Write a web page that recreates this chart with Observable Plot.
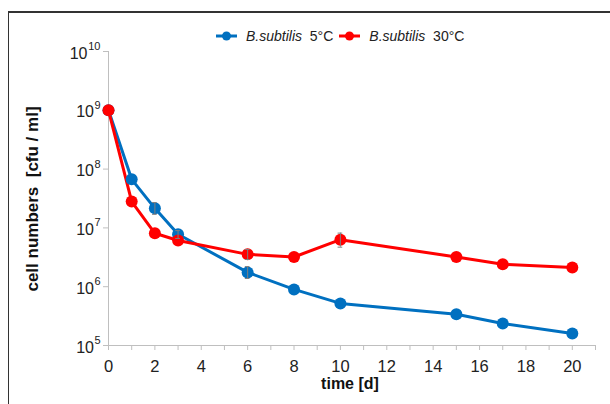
<!DOCTYPE html>
<html>
<head>
<meta charset="utf-8">
<script src="https://cdn.jsdelivr.net/npm/d3@7"></script>
<script src="https://cdn.jsdelivr.net/npm/@observablehq/plot@0.6"></script>
<style>
  html, body { margin: 0; padding: 0; background: #fff; }
  #wrap { position: relative; width: 610px; height: 404px; overflow: hidden; font-family: "Liberation Sans", Arial, sans-serif; }
  #frame { position: absolute; left: 8px; top: 11px; right: -5px; bottom: -5px; border-left: 1.5px solid #333; border-top: 2px solid #333; pointer-events: none; }
  #legend { position: absolute; top: 28px; left: 216px; font-size: 14px; color: #222; display: flex; align-items: center; white-space: pre; }
  #legend .item { display: flex; align-items: center; margin-right: 6px; }
  #legend svg { margin-right: 9px; }
  .ytitle { position: absolute; left: 33px; top: 199px; transform: translate(-50%, -50%) rotate(-90deg); font-weight: bold; font-size: 17px; color: #111; white-space: pre; }
  .xtitle { position: absolute; left: 350px; top: 384px; transform: translate(-50%, -50%); font-weight: bold; font-size: 16px; color: #111; white-space: pre; }
  #chart { position: absolute; left: 0; top: 0; }
</style>
</head>
<body>
<div id="wrap">
  <div id="chart"></div>
  <div id="frame"></div>
  <div id="legend"></div>
  <div class="ytitle">cell numbers  [cfu / ml]</div>
  <div class="xtitle">time [d]</div>
</div>
<script>
// ---- data ----
const days = [0, 1, 2, 3, 6, 8, 10, 15, 17, 20];
const cold5 = [1e9, 6.7e7, 2.15e7, 7.8e6, 1.75e6, 9.0e5, 5.2e5, 3.4e5, 2.37e5, 1.6e5];
const warm30 = [1e9, 2.8e7, 8.1e6, 6.1e6, 3.55e6, 3.2e6, 6.3e6, 3.2e6, 2.4e6, 2.13e6];
const seriesNames = ["B.subtilis 5°C", "B.subtilis 30°C"];
const seriesColors = ["#0070C0", "#FF0000"];

const errDays = [2, 3, 6, 6, 10];
const errSeries = ["B.subtilis 5°C", "B.subtilis 5°C", "B.subtilis 5°C", "B.subtilis 30°C", "B.subtilis 30°C"];
const errLow = [1.7e7, 6.6e6, 1.38e6, 2.9e6, 4.7e6];
const errHigh = [2.7e7, 9.0e6, 2.2e6, 4.3e6, 8.15e6];
const capHalfWidth = 0.1; // in days

const yTicks = [1e5, 1e6, 1e7, 1e8, 1e9, 1e10];
const xTicks = d3.range(0, 22);
const xLabels = [0, 2, 4, 6, 8, 10, 12, 14, 16, 18, 20];

// ---- build tables ----
const rows = [];
days.forEach((d, i) => rows.push({day: d, value: cold5[i], series: seriesNames[0]}));
days.forEach((d, i) => rows.push({day: d, value: warm30[i], series: seriesNames[1]}));
const errRows = errDays.map((d, i) => ({day: d, lo: errLow[i], hi: errHigh[i], series: errSeries[i]}));
const expOf = v => Math.round(Math.log10(v));
const ticks1 = yTicks.filter(v => expOf(v) < 10);
const ticks2 = yTicks.filter(v => expOf(v) >= 10);

const plot = Plot.plot({
  width: 610,
  height: 404,
  marginLeft: 108,
  marginRight: 15,
  marginTop: 51,
  marginBottom: 59,
  style: {fontFamily: "'Liberation Sans', Arial, sans-serif", fontSize: "15px", background: "transparent", overflow: "visible"},
  x: {type: "linear", domain: [0, 21], label: null},
  y: {type: "log", domain: [1e5, 1e10], label: null},
  color: {domain: seriesNames, range: seriesColors},
  marks: [
    Plot.axisY({ticks: yTicks, tickFormat: () => "", tickSize: 5, stroke: "#bfbfbf", label: null}),
    // y tick labels: "10" with superscript exponent
    Plot.text(ticks1, {x: 0, y: d => d, text: () => "10", dx: -14.5, dy: 2, textAnchor: "end", fontSize: 16, fill: "#222"}),
    Plot.text(ticks2, {x: 0, y: d => d, text: () => "10", dx: -21, dy: 2, textAnchor: "end", fontSize: 16, fill: "#222"}),
    Plot.text(yTicks, {x: 0, y: d => d, text: d => String(expOf(d)), dx: -8, dy: -5, textAnchor: "end", fontSize: 11, fill: "#222"}),
    Plot.axisX({ticks: xTicks, tickFormat: () => "", tickSize: 5, stroke: "#bfbfbf", label: null}),
    Plot.text(xLabels, {x: d => d, y: 1e5, text: d => String(d), dy: 21, fontSize: 16.5, fill: "#222"}),
    Plot.ruleX([0], {stroke: "#bfbfbf", strokeWidth: 1}),
    Plot.ruleY([1e5], {stroke: "#bfbfbf", strokeWidth: 1}),
    Plot.line(rows, {x: "day", y: "value", z: "series", stroke: "series", strokeWidth: 3}),
    Plot.dot(rows, {x: "day", y: "value", fill: "series", r: 6, stroke: null}),
    Plot.ruleX(errRows, {x: "day", y1: "lo", y2: "hi", stroke: "#7f7f7f", strokeWidth: 1}),
    Plot.ruleY(errRows, {y: "lo", x1: d => d.day - capHalfWidth, x2: d => d.day + capHalfWidth, stroke: "#7f7f7f", strokeWidth: 1}),
    Plot.ruleY(errRows, {y: "hi", x1: d => d.day - capHalfWidth, x2: d => d.day + capHalfWidth, stroke: "#7f7f7f", strokeWidth: 1})
  ]
});
document.getElementById("chart").appendChild(plot);

// ---- legend ----
const legend = document.getElementById("legend");
seriesNames.forEach((name, i) => {
  const item = document.createElement("div");
  item.className = "item";
  const c = seriesColors[i];
  item.innerHTML = `<svg width="21" height="12"><line x1="0" y1="6" x2="21" y2="6" stroke="${c}" stroke-width="3"/><circle cx="10.5" cy="6" r="4.5" fill="${c}"/></svg><span><i>${name.split(" ")[0]}</i>  ${name.split(" ")[1]}</span>`;
  legend.appendChild(item);
});
</script>
</body>
</html>
